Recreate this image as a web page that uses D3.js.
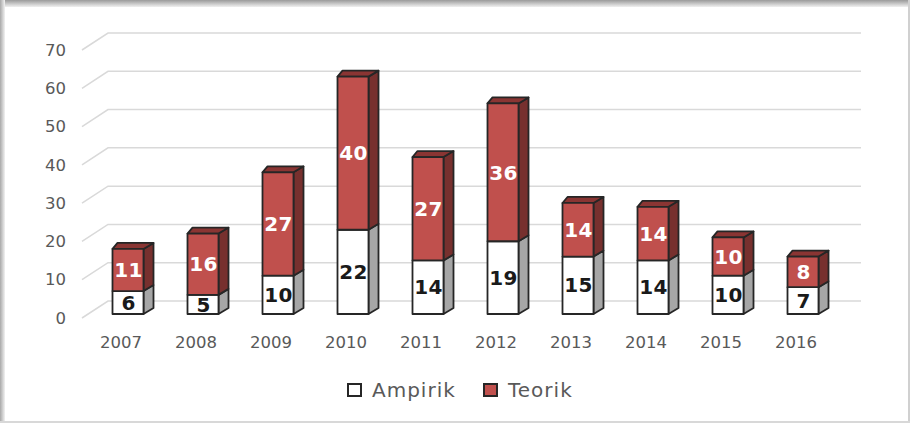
<!DOCTYPE html>
<html><head><meta charset="utf-8">
<script src="https://cdn.jsdelivr.net/npm/d3@7"></script>
<style>body{margin:0;background:#fff}svg{display:block}</style>
</head><body>
<script>
const years = ["2007","2008","2009","2010","2011","2012","2013","2014","2015","2016"];
const ampirik = [6,5,10,22,14,19,15,14,10,7];
const teorik = [11,16,27,40,27,36,14,14,10,8];
const yTicks = [0,10,20,30,40,50,60,70];
const seriesNames = ["Ampirik","Teorik"];

const W=910,H=423;
const svg=d3.select("body").append("svg").attr("width",W).attr("height",H);
const defs=svg.append("defs");
const gt=defs.append("linearGradient").attr("id","gt").attr("x1",0).attr("y1",0).attr("x2",0).attr("y2",1);
gt.append("stop").attr("offset",0).attr("stop-color","#9a9a9a");
gt.append("stop").attr("offset",1).attr("stop-color","#f0f0f0");
const gl=defs.append("linearGradient").attr("id","gl").attr("x1",0).attr("y1",0).attr("x2",1).attr("y2",0);
gl.append("stop").attr("offset",0).attr("stop-color","#a8a8a8");
gl.append("stop").attr("offset",1).attr("stop-color","#f2f2f2");
// frame
svg.append("rect").attr("x",0).attr("y",0).attr("width",W).attr("height",7).attr("fill","url(#gt)");
svg.append("rect").attr("x",0).attr("y",0).attr("width",5).attr("height",H).attr("fill","url(#gl)");
svg.append("rect").attr("x",908).attr("y",0).attr("width",2).attr("height",H).attr("fill","#d0d0d0");
svg.append("rect").attr("x",0).attr("y",421).attr("width",W).attr("height",2).attr("fill","#d8d8d8");

const yFront=d3.scaleLinear().domain([0,70]).range([318,50]);
const yBack=d3.scaleLinear().domain([0,70]).range([301,33]);
const yBar=d3.scaleLinear().domain([0,70]).range([314,46]);
const x=d3.scalePoint().domain(years).range([90.5,840.5]).padding(0.5);

// gridlines
const grid=svg.append("g");
yTicks.forEach(t=>{
  grid.append("path").attr("d",`M82,${yFront(t)}L108,${yBack(t)}L861,${yBack(t)}`)
    .attr("fill","none").attr("stroke","#d9d9d9").attr("stroke-width",1.5);
});
svg.append("g").selectAll("text").data(yTicks).join("text")
  .attr("x",66).attr("y",t=>yFront(t)).attr("dy","0.35em").attr("text-anchor","end")
  .attr("font-family","DejaVu Sans").attr("font-size",16.5).attr("fill","#595959").text(d=>d);

svg.append("g").selectAll("text").data(years).join("text")
  .attr("x",d=>x(d)-7).attr("y",348).attr("text-anchor","middle")
  .attr("font-family","DejaVu Sans").attr("font-size",16.5).attr("fill","#595959").text(d=>d);

const bw=31,dx=10,dxl=5,dy=6;
const stroke="#262626";
const colors={front:["#ffffff","#c0504d"],side:["#a6a6a6","#77302e"],top:["#d9d9d9","#8a3533"],txt:["#1a1a1a","#ffffff"]};
const bars=svg.append("g");
years.forEach((yr,i)=>{
  const cx=x(yr),x0=cx-bw/2,x1=cx+bw/2;
  const segs=[[0,ampirik[i]],[ampirik[i],ampirik[i]+teorik[i]]];
  segs.forEach((s,k)=>{
    const yb=yBar(s[0]),yt=yBar(s[1]);
    const g=bars.append("g").attr("stroke",stroke).attr("stroke-width",1.8).attr("stroke-linejoin","round");
    g.append("path").attr("d",`M${x1},${yb}L${x1+dx},${yb-dy}L${x1+dx},${yt-dy}L${x1},${yt}Z`).attr("fill",colors.side[k]);
    if(k===1) g.append("path").attr("d",`M${x0},${yt}L${x1},${yt}L${x1+dx},${yt-dy}L${x0+dxl},${yt-dy}Z`).attr("fill",colors.top[k]);
    g.append("rect").attr("x",x0).attr("y",yt).attr("width",bw).attr("height",yb-yt).attr("fill",colors.front[k]);
    bars.append("text").attr("x",cx+0.5).attr("y",(yb+yt)/2).attr("dy","0.36em").attr("text-anchor","middle")
      .attr("font-family","DejaVu Sans").attr("font-weight","bold").attr("font-size",20)
      .attr("letter-spacing",0.3).attr("fill",colors.txt[k]).text(s[1]-s[0]);
  });
});

// legend
const leg=svg.append("g");
const lx=[348,484];
seriesNames.forEach((n,k)=>{
  leg.append("rect").attr("x",lx[k]).attr("y",384).attr("width",13).attr("height",12)
    .attr("fill",colors.front[k]).attr("stroke",stroke).attr("stroke-width",2);
  leg.append("text").attr("x",lx[k]+24).attr("y",397).attr("font-family","DejaVu Sans")
    .attr("font-size",20).attr("letter-spacing",1).attr("fill","#595959").text(n);
});
</script>
</body></html>
